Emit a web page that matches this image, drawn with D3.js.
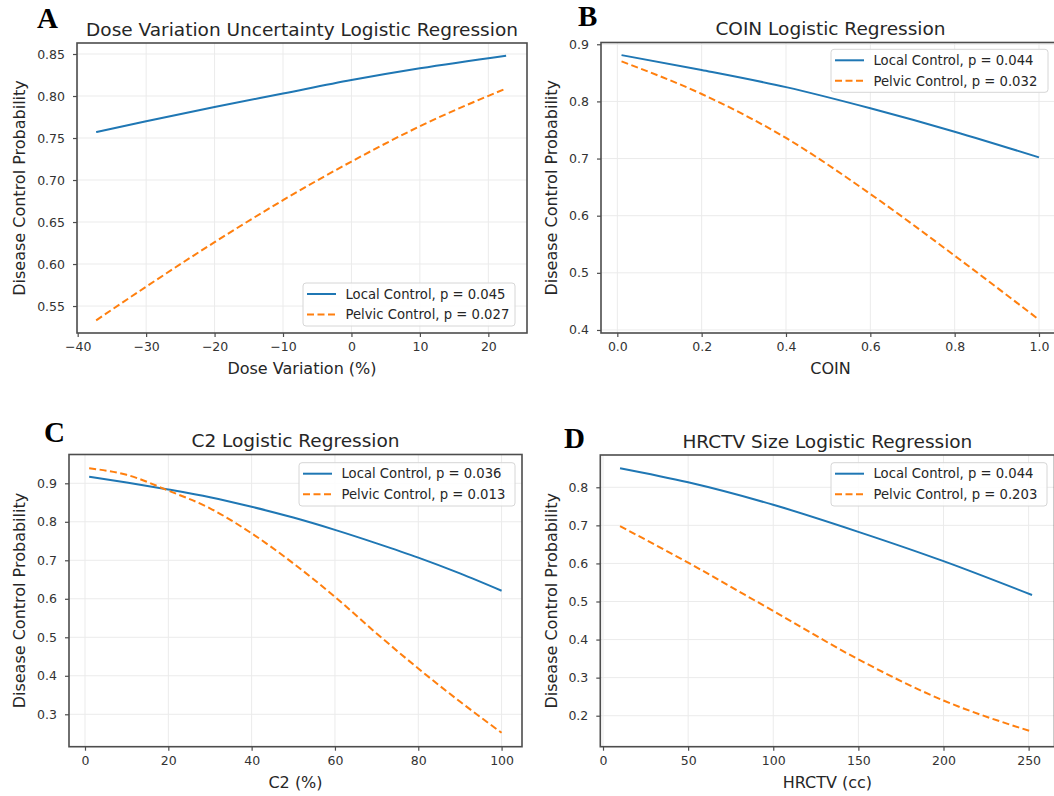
<!DOCTYPE html>
<html><head><meta charset="utf-8">
<script src="https://cdn.jsdelivr.net/npm/d3@7"></script>
<style>
body{margin:0;background:#fff;}
svg{display:block;}
text{font-family:"DejaVu Sans",sans-serif;}
</style>
</head><body>
<svg id="c" width="1054" height="796"></svg>
<script>
// ---------- data ----------
const seriesNames = ["Local Control", "Pelvic Control"];

const xA = [-37.3, -30, -20, -10, 0, 10, 22.6];
const localA = [0.757, 0.770, 0.787, 0.803, 0.819, 0.833, 0.848];
const pelvicA = [0.533, 0.573, 0.626, 0.676, 0.722, 0.764, 0.809];
const pA = ["0.045", "0.027"];
const xTicksA = [-40, -30, -20, -10, 0, 10, 20];
const yTicksA = [0.55, 0.60, 0.65, 0.70, 0.75, 0.80, 0.85];

const xB = [0.01, 0.2, 0.4, 0.6, 0.8, 1.0];
const localB = [0.881, 0.855, 0.825, 0.788, 0.747, 0.702];
const pelvicB = [0.870, 0.813, 0.736, 0.638, 0.530, 0.418];
const pB = ["0.044", "0.032"];
const xTicksB = [0.0, 0.2, 0.4, 0.6, 0.8, 1.0];
const yTicksB = [0.4, 0.5, 0.6, 0.7, 0.8, 0.9];

const xC = [1, 10, 20, 30, 40, 50, 60, 70, 80, 90, 100];
const localC = [0.917, 0.902, 0.884, 0.864, 0.839, 0.811, 0.779, 0.744, 0.707, 0.666, 0.621];
const pelvicC = [0.939, 0.922, 0.881, 0.835, 0.770, 0.692, 0.605, 0.510, 0.419, 0.333, 0.252];
const pC = ["0.036", "0.013"];
const xTicksC = [0, 20, 40, 60, 80, 100];
const yTicksC = [0.3, 0.4, 0.5, 0.6, 0.7, 0.8, 0.9];

const xD = [10, 50, 100, 150, 200, 252];
const localD = [0.850, 0.813, 0.754, 0.683, 0.606, 0.517];
const pelvicD = [0.698, 0.602, 0.475, 0.348, 0.240, 0.158];
const pD = ["0.044", "0.203"];
const xTicksD = [0, 50, 100, 150, 200, 250];
const yTicksD = [0.2, 0.3, 0.4, 0.5, 0.6, 0.7, 0.8];

// ---------- layout / style ----------
const colors = ["#1f77b4", "#ff7f0e"];
const panels = [
  {letter:"A", lp:[37,28], title:"Dose Variation Uncertainty Logistic Regression", xlabel:"Dose Variation (%)",
   x:xA, ys:[localA,pelvicA], p:pA, xt:xTicksA, yt:yTicksA, xf:d3.format("d"), yf:d3.format(".2f"),
   xDom:[-40.1,25.65], yDom:[0.5179,0.8631], box:[77,43,527,333], leg:[303,283,515,326], ylx:25},
  {letter:"B", lp:[578,26], title:"COIN Logistic Regression", xlabel:"COIN",
   x:xB, ys:[localB,pelvicB], p:pB, xt:xTicksB, yt:yTicksB, xf:d3.format(".1f"), yf:d3.format(".1f"),
   xDom:[-0.0387,1.0498], yDom:[0.3947,0.9031], box:[601,42.5,1060,333], leg:[831,49.3,1048,92.3], ylx:557},
  {letter:"C", lp:[44,442], title:"C2 Logistic Regression", xlabel:"C2 (%)",
   x:xC, ys:[localC,pelvicC], p:pC, xt:xTicksC, yt:yTicksC, xf:d3.format("d"), yf:d3.format(".1f"),
   xDom:[-3.84,104.9], yDom:[0.2158,0.9748], box:[69,454.5,522,746.7], leg:[299,462.7,515,506], ylx:25},
  {letter:"D", lp:[564,448], title:"HRCTV Size Logistic Regression", xlabel:"HRCTV (cc)",
   x:xD, ys:[localD,pelvicD], p:pD, xt:xTicksD, yt:yTicksD, xf:d3.format("d"), yf:d3.format(".1f"),
   xDom:[-1.59,265.2], yDom:[0.1186,0.8848], box:[600.3,455,1054.5,746.7], leg:[831,462.7,1047,506], ylx:557}
];

const svg = d3.select("#c");
const textCol = "#262626";
const spineCol = "#4d4d4d";

panels.forEach((P, i) => {
  const [L, T, R, B] = P.box;
  const x = d3.scaleLinear().domain(P.xDom).range([L, R]);
  const y = d3.scaleLinear().domain(P.yDom).range([B, T]);
  const g = svg.append("g");

  // grid
  g.append("g").selectAll("line").data(P.xt).join("line")
    .attr("x1", d => x(d)).attr("x2", d => x(d)).attr("y1", T).attr("y2", B)
    .attr("stroke", "#ebebeb").attr("stroke-width", 1);
  g.append("g").selectAll("line").data(P.yt).join("line")
    .attr("y1", d => y(d)).attr("y2", d => y(d)).attr("x1", L).attr("x2", R)
    .attr("stroke", "#ebebeb").attr("stroke-width", 1);

  // axes
  const xa = d3.axisBottom(x).tickValues(P.xt).tickFormat(P.xf).tickSize(4).tickPadding(5);
  const ya = d3.axisLeft(y).tickValues(P.yt).tickFormat(P.yf).tickSize(4).tickPadding(8);
  const gx = g.append("g").attr("transform", `translate(0,${B})`).call(xa);
  const gy = g.append("g").attr("transform", `translate(${L},0)`).call(ya);
  [gx, gy].forEach(a => {
    a.select(".domain").remove();
    a.selectAll(".tick line").attr("stroke", spineCol).attr("stroke-width", 1.2);
    a.selectAll(".tick text").attr("fill", "#333").style("font-size", "12.5px")
      .style("font-family", "'DejaVu Sans', sans-serif");
  });

  // series lines
  const line = d3.line().x(d => x(d[0])).y(d => y(d[1])).curve(d3.curveMonotoneX);
  P.ys.forEach((vals, k) => {
    g.append("path").datum(P.x.map((xv, j) => [xv, vals[j]]))
      .attr("d", line).attr("fill", "none").attr("stroke", colors[k])
      .attr("stroke-width", 2).attr("stroke-dasharray", k === 1 ? "7,3.5" : null);
  });

  // frame
  g.append("rect").attr("x", L).attr("y", T).attr("width", R - L).attr("height", B - T)
    .attr("fill", "none").attr("stroke", spineCol).attr("stroke-width", 1.6);

  // legend
  const [lx0, ly0, lx1, ly1] = P.leg;
  g.append("rect").attr("x", lx0).attr("y", ly0).attr("width", lx1 - lx0).attr("height", ly1 - ly0)
    .attr("rx", 3).attr("fill", "#fff").attr("fill-opacity", 0.85).attr("stroke", "#d6d6d6");
  seriesNames.forEach((nm, k) => {
    const cy = ly0 + 11 + k * 20.5;
    g.append("line").attr("x1", lx0 + 4).attr("x2", lx0 + 33).attr("y1", cy).attr("y2", cy)
      .attr("stroke", colors[k]).attr("stroke-width", 2).attr("stroke-dasharray", k === 1 ? "7,3.5" : null);
    g.append("text").attr("x", lx0 + 42.5).attr("y", cy).attr("dy", "0.36em")
      .attr("fill", textCol).style("font-size", "13.2px").text(`${nm}, p = ${P.p[k]}`);
  });

  // title & labels
  g.append("text").attr("x", (L + R) / 2).attr("y", T - 7.5).attr("text-anchor", "middle")
    .attr("fill", textCol).style("font-size", "18.5px").text(P.title);
  g.append("text").attr("x", (L + R) / 2).attr("y", B + 41).attr("text-anchor", "middle")
    .attr("fill", textCol).style("font-size", "16px").text(P.xlabel);
  g.append("text").attr("transform", `translate(${P.ylx},${(T + B) / 2}) rotate(-90)`)
    .attr("text-anchor", "middle").attr("fill", textCol).style("font-size", "16px")
    .text("Disease Control Probability");

  // panel letter
  g.append("text").attr("x", P.lp[0]).attr("y", P.lp[1])
    .style("font-family", "'Liberation Serif','Times New Roman',serif").style("font-weight", "bold")
    .style("font-size", "29px").attr("fill", "#000").text(P.letter);
});
</script>
</body></html>
